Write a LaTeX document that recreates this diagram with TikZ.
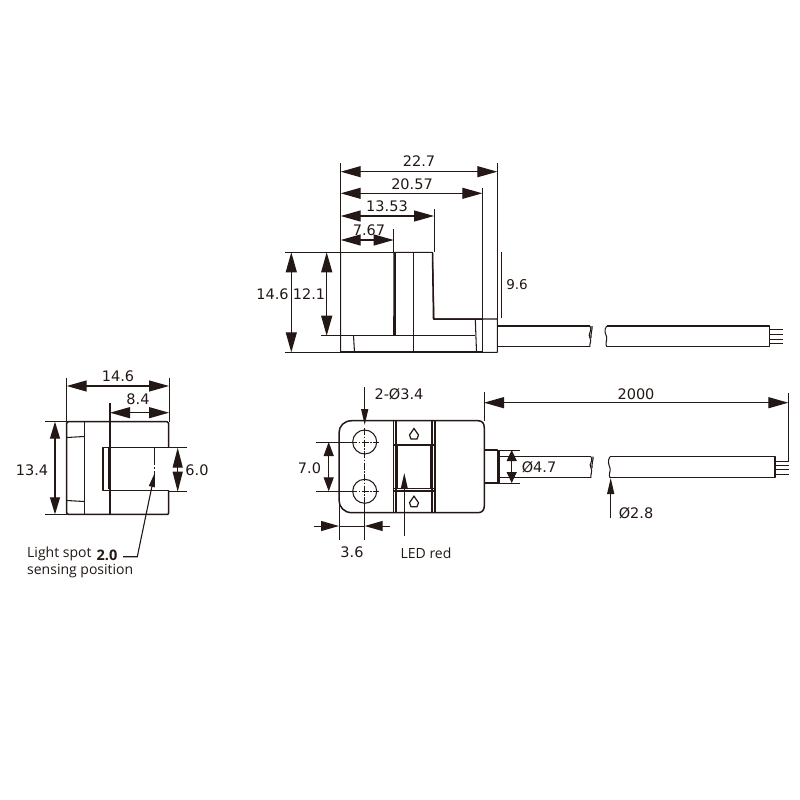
\documentclass[tikz,border=0pt]{standalone}
\usepackage{fontspec}
\setmainfont{DejaVu Sans}
\newfontfamily\notefont{Open Sans}
\usetikzlibrary{arrows.meta}
\definecolor{ink}{HTML}{231815}
\tikzset{
  part/.style={draw=ink,line width=1.05pt,line join=round},
  thick part/.style={draw=ink,line width=1.5pt,line join=round},
  ext/.style={draw=ink,line width=0.9pt},
  dim/.style={draw=ink,line width=1.2pt,{Triangle[length=20pt,width=11pt]}-{Triangle[length=20pt,width=11pt]}},
  sdim/.style={draw=ink,line width=1.2pt,{Triangle[length=14pt,width=10pt]}-{Triangle[length=14pt,width=10pt]}},
  lead/.style={draw=ink,line width=1.1pt,-{Triangle[length=16pt,width=7pt]}},
  num/.style={text=ink,font=\fontsize{14.5}{16}\selectfont,inner sep=0pt},
  note/.style={text=ink,font=\notefont\fontsize{14}{16}\selectfont,inner sep=0pt},
}
\begin{document}
\begin{tikzpicture}[x=1pt,y=-1pt]
\useasboundingbox (0,0) rectangle (800,800);
\fill[white] (0,0) rectangle (800,800);

% ---- top view: body
\draw[part] (340.7,252.3) -- (340.7,352.3) -- (497.3,352.3) -- (497.3,319) -- (434,319) -- (432.5,252.3) -- (394,252.3) -- (393.7,335.7);
\draw[thick part] (341,352) -- (482,352);
\draw[part] (340.7,252.3) -- (394,252.3);
\draw[thick part] (394,252.6) -- (433,252.6);
\draw[part] (395,253) -- (395,335);
\draw[thick part] (432.5,253) -- (433.5,319) -- (482,319);
\draw[part] (321,335.7) -- (475,335.7);
\draw[part] (413.3,252.3) -- (413.3,352.3);
\draw[part] (353.5,335.7) -- (354.5,352.3);
\draw[part] (475.3,319) -- (476.5,352.3);
\draw[part] (482.3,319) -- (482.3,352.3);
\draw[part] (285,252.3) -- (340.7,252.3);
\draw[part] (285,352.8) -- (340.7,352.8);
% extension lines
\draw[ext] (340.7,163) -- (340.7,252);
\draw[ext] (497.3,163) -- (497.3,319);
\draw[ext] (482.3,188) -- (482.3,319);
\draw[ext] (434,209) -- (434,252);
\draw[ext] (393.7,229) -- (393.7,252);
\draw[ext] (501.7,252) -- (501.7,318);
% dimensions
\draw[dim] (340.7,171.7) -- (497.3,171.7);
\node[num] (d1) at (419,161.5) {22.7};
\draw[dim] (340.7,193.3) -- (482.3,193.3);
\node[num] (d2) at (412,184.5) {20.57};
\draw[dim] (340.7,216) -- (434,216);
\node[num] (d3) at (387,206.5) {13.53};
\draw[dim] (340.7,240) -- (393.7,240);
\node[num] (d4) at (369,230.5) {7.67};
\draw[dim] (291.3,252.3) -- (291.3,352.3);
\draw[dim] (326.7,252.3) -- (326.7,335.7);
\node[num] (d5) at (272.5,294.5) {14.6};
\node[num] (d6) at (309,294.5) {12.1};
\node[num,font=\fontsize{13.5}{15}\selectfont] (d7) at (517,285) {9.6};

% top cable
\draw[part] (497.3,326) -- (590,326);
\draw[part] (497.3,346.7) -- (590,346.7);
\draw[part] (590,326) .. controls (593,331) and (587,334) .. (590,338) .. controls (592,341) and (589,344) .. (590,346.7);
\draw[part] (592,326) .. controls (592.5,330) and (590.5,334) .. (591,338);
\draw[part] (606.7,326) -- (769.3,326) -- (769.3,346.7) -- (606.7,346.7);
\draw[part] (606.7,326) .. controls (603,331) and (606,334) .. (606.7,337) .. controls (607,341) and (605,344) .. (606.7,346.7);
\foreach \yy in {329.3,334.3,339,343.7}
  \draw[part,line width=0.8pt] (769.3,\yy) -- (782.7,\yy);

% ---- front view: body
\draw[thick part] (352,420.7) -- (478,420.7) .. controls (482,420.7) and (484.3,423) .. (484.3,428) -- (484.3,506) .. controls (484.3,510) and (482,512.7) .. (478,512.7) -- (352,512.7) .. controls (344,512.7) and (339,507) .. (339,500) -- (339,433) .. controls (339,426) and (344,420.7) .. (352,420.7) -- cycle;
\draw[part] (364.7,442) circle[radius=12];
\draw[part] (364.7,491.3) circle[radius=12];
\foreach \hy in {442,491.3}{
  \draw[part,line width=0.6pt,dash pattern=on 7pt off 1.5pt on 1.5pt off 1.5pt] (350,\hy) -- (379,\hy);
  \draw[part,line width=0.6pt,dash pattern=on 7pt off 1.5pt on 1.5pt off 1.5pt] (364.7,428) -- (364.7,505);
}
% LED window
\draw[thick part] (393.3,420.7) -- (393.3,512.7);
\draw[thick part] (435,420.7) -- (435,512.7);
\draw[part] (396,421) -- (396,512.7);
\draw[part] (432,421) -- (432,512.7);
\draw[thick part] (393.3,445) -- (435,445);
\draw[thick part] (393.3,488.3) -- (435,488.3);
\draw[part] (393.3,491) -- (435,491);
\draw[part] (397.5,445) -- (397.5,488);
\draw[part] (431,445) -- (431,488);
\foreach \ay in {434,501.7}
  \draw[part,line width=1.2pt,line join=miter,fill=white] (414,\ay-5.5) -- (418.5,\ay+1) -- (417,\ay+5) -- (411,\ay+5) -- (409.5,\ay+1) -- cycle;
% collar
\draw[part] (484.3,450) -- (497.3,450) -- (497.3,483) -- (484.3,483);
\draw[part] (499,450) -- (499,483);
% bottom cable
\draw[part] (499,456.7) -- (591,456.7);
\draw[part] (499,477.7) -- (591,477.7);
\draw[part] (591,456.7) .. controls (594,461) and (588,464) .. (591,468) .. controls (593,471) and (590,475) .. (591,477.7);
\draw[part] (593,456.7) .. controls (593.5,460) and (591.5,464) .. (592,468);
\draw[part] (610,456.7) -- (775,456.7) -- (775,477.7) -- (610,477.7);
\draw[part] (610,456.7) .. controls (607,461) and (609,465) .. (610,468) .. controls (611,471) and (608,475) .. (610,477.7);
\foreach \yy in {461.3,465.3,469.3,474}
  \draw[part,line width=0.8pt] (775,\yy) -- (789,\yy);
% dims
\draw[ext] (497.3,450) -- (520,450);
\draw[ext] (497.3,483) -- (520,483);
\draw[sdim,{Triangle[length=11pt,width=10pt]}-{Triangle[length=11pt,width=10pt]}] (511.7,450) -- (511.7,483);
\node[num] (e1) at (539,467) {Ø4.7};
\draw[ext] (484,392) -- (484,421);
\draw[ext,line width=1.1pt] (788.3,392.7) -- (788.3,461);
\draw[dim] (484,402.7) -- (788.3,402.7);
\node[num] (e2) at (636,394) {2000};
\draw[lead] (610.7,517.5) -- (610.7,478);
\node[num] (e3) at (636,513) {Ø2.8};
\draw[lead] (364.7,387) -- (364.7,425);
\node[num] (e4) at (399,394) {2-Ø3.4};
\draw[ext] (316,442) -- (353,442);
\draw[ext] (316,491.3) -- (353,491.3);
\draw[sdim] (328.7,442) -- (328.7,491.3);
\node[num] (e5) at (309.5,468) {7.0};
\draw[ext] (339,500) -- (339,540);
\draw[ext] (364.7,503) -- (364.7,540);
\draw[draw=ink,line width=1pt,-{Triangle[length=18pt,width=10pt]}] (314,526) -- (339,526);
\draw[draw=ink,line width=1pt,-{Triangle[length=18pt,width=10pt]}] (390,526) -- (364.7,526);
\draw[ext] (339,526) -- (364.7,526);
\node[num] (e6) at (352,552) {3.6};
\draw[lead] (404.3,536) -- (404.3,473);
\node[note] (e7) at (426,553.5) {LED red};

% ---- side view
\draw[thick part] (84,421.7) -- (167,421.7) -- (168.5,423) -- (168.5,447.7);
\draw[thick part] (66.7,423) -- (68,421.7) -- (84,421.7);
\draw[thick part] (66.7,423) -- (66.7,513) -- (68,514.3) -- (168,514.3) -- (168.5,513) -- (168.5,490.5);
\draw[part] (84.3,421.7) -- (84.3,514.3);
\draw[part] (67,437.5) -- (84,436.5);
\draw[part] (67,500.5) -- (84,501.5);
\draw[part] (168.5,447.3) -- (103,447.3) -- (103,490.5) -- (168.5,490.5);
\draw[part] (108.3,447.7) -- (108.3,489);
\draw[part] (110,490.5) -- (110,514.3);
\draw[part,dash pattern=on 18pt off 2pt on 2pt off 2pt on 6pt off 2pt] (154.7,447) -- (154.7,477);
% dims
\draw[ext] (66.7,378) -- (66.7,422);
\draw[ext] (169,378) -- (169,422);
\draw[ext,line width=1.1pt] (110,403) -- (110,490);
\draw[ext] (45,421.7) -- (103,421.7);
\draw[ext] (45,514.3) -- (67,514.3);
\draw[ext] (169,447.7) -- (186.7,447.7);
\draw[ext] (169,491.7) -- (186.7,491.7);
\draw[dim] (66.7,386) -- (169,386);
\node[num] (s1) at (118,376) {14.6};
\draw[dim] (110,412.7) -- (169,412.7);
\node[num] (s2) at (138,399) {8.4};
\draw[sdim,{Triangle[length=17pt,width=10pt]}-{Triangle[length=17pt,width=10pt]}] (55,421.7) -- (55,514.3);
\node[num] (s3) at (32,470) {13.4};
\draw[sdim,{Triangle[length=20pt,width=10pt]}-{Triangle[length=20pt,width=10pt]}] (177.7,447.7) -- (177.7,491.7);
\node[num] (s4) at (197,470) {6.0};
% leader
\draw[draw=ink,line width=1.1pt,-{Triangle[length=14pt,width=6pt]}] (123,556.7) -- (137.3,556.7) -- (154.7,473);
\node[note,anchor=west] (s5) at (27,553.5) {Light spot};
\node[note,anchor=west,font=\notefont\bfseries\fontsize{14.5}{16}\selectfont] (s6) at (96.5,555.5) {2.0};
\node[note,anchor=west] (s7) at (27,571) {sensing position};
\end{tikzpicture}
\end{document}
